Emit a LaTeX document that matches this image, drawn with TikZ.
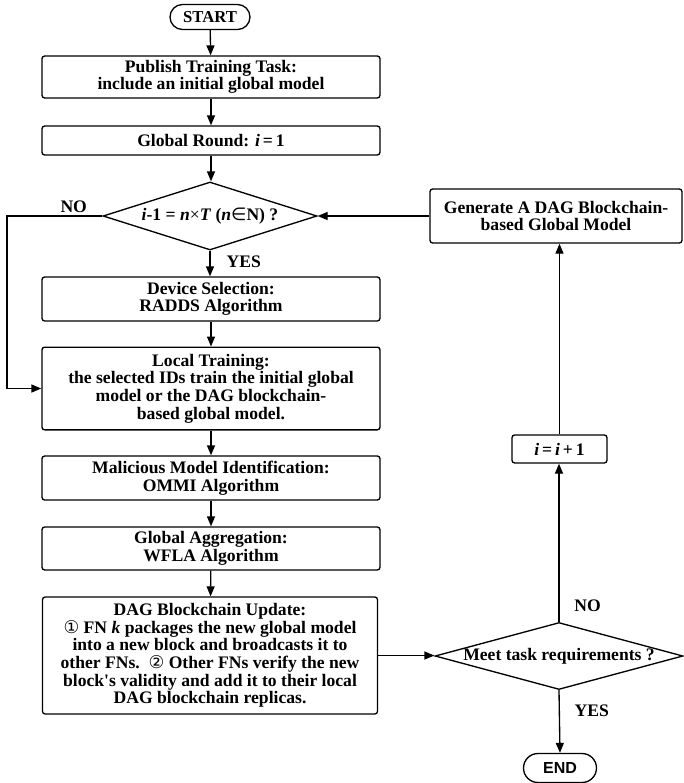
\documentclass[tikz,border=0pt]{standalone}
\usepackage{fontspec}
\setmainfont{Liberation Serif}
\newfontfamily\symfont{DejaVu Sans}
\newfontfamily\endfont{Liberation Sans}
\usetikzlibrary{shapes.geometric,shapes.misc,arrows.meta}

\tikzset{
  procbox/.style={draw, line width=1pt, rounded corners=2pt, align=center,
    font=\bfseries\fontsize{13.2}{13.2}\selectfont, inner sep=1pt,
    minimum width=253.5pt},
  decision/.style={draw, line width=1pt, diamond, inner sep=0pt,
    text height=7pt, text depth=0pt,
    font=\bfseries\fontsize{13.2}{13.2}\selectfont},
  terminal/.style={draw, line width=1pt, rounded rectangle, inner sep=0pt},
  flow/.style={line width=1pt, -{Triangle[length=7.5pt,width=6pt]}},
  lbl/.style={font=\bfseries\fontsize{13.2}{13.2}\selectfont, inner sep=2pt}
}

\begin{document}
\begin{tikzpicture}[x=0.75pt, y=-0.75pt]
    \useasboundingbox (0,0) rectangle (683,783);

    % main column
    \node [terminal, minimum width=60pt, minimum height=18.75pt,
      font=\bfseries\fontsize{12.5}{12.5}\selectfont] (start) at (210,17) {START};
    \node [procbox, minimum height=31.5pt] (publish) at (211,77)
      {Publish Training Task:\\include an initial global model};
    \node [procbox, minimum height=21.75pt] (round) at (211,140.5)
      {Global Round: \textit{i}\,=\,1};
    \node [decision, minimum width=160.5pt, minimum height=51pt, aspect=3.15] (check) at (210,216)
      {\textit{i}-1 = \textit{n}{\mdseries×}\textit{T} (\textit{n}{\symfont\mdseries ∈}N) ?};
    \node [procbox, minimum height=33pt] (select) at (211,299)
      {Device Selection:\\RADDS Algorithm};
    \node [procbox, minimum height=62pt] (local) at (211,388.5)
      {Local Training:\\the selected IDs train the initial global\\model or the DAG blockchain-\\based global model.};
    \node [procbox, minimum height=33pt] (ident) at (211,478)
      {Malicious Model Identification:\\OMMI Algorithm};
    \node [procbox, minimum height=32.25pt] (aggr) at (211,548.5)
      {Global Aggregation:\\WFLA Algorithm};
    \node [procbox, minimum width=251.25pt, minimum height=87.75pt] (update) at (210,655.5)
      {DAG Blockchain Update:\\{\symfont\mdseries ①} FN \textit{k} packages the new global model\\into a new block and broadcasts it to\\other FNs.\ \ {\symfont\mdseries ②} Other FNs verify the new\\block\textquotesingle s validity and add it to their local\\DAG blockchain replicas.};

    % right column
    \node [decision, minimum width=186pt, minimum height=50.25pt, aspect=3.7] (meet) at (559,656)
      {Meet task requirements ?};
    \node [procbox, minimum width=71.25pt, minimum height=21pt] (incr) at (559.5,449)
      {\textit{i}\,=\,\textit{i}\,+\,1};
    \node [procbox, minimum width=189pt, minimum height=40.5pt] (gen) at (556,216)
      {Generate A DAG Blockchain-\\based Global Model};
    \node [terminal, minimum width=54.75pt, minimum height=21.75pt,
      font=\endfont\bfseries\fontsize{12}{12}\selectfont] (end) at (560,768) {END};

    \coordinate (back) at (7,216);

    \draw [flow] (start) -- (publish);
    \draw [flow] (publish) -- (round);
    \draw [flow] (round.south) -- (round.south |- check.north);
    \draw [flow] (check.south) -- node [lbl, right, pos=0.45, xshift=10pt] {YES} (check.south |- select.north);
    \draw [flow] (check.west) -- node [lbl, above, pos=0.3] {NO} (back) |- (local.west);
    \draw [flow] (select) -- (local);
    \draw [flow] (local) -- (ident);
    \draw [flow] (ident) -- (aggr);
    \draw [flow] (aggr) -- (update);
    \draw [flow] (update.east) -- (update.east -| meet.west);
    \draw [flow] (meet.north) -- node [lbl, right, pos=0.1, xshift=9pt] {NO} (meet.north |- incr.south);
    \draw [flow] (incr.north) -- (incr.north |- gen.south);
    \draw [flow] (gen.west) -- (check.east);
    \draw [flow] (meet.south) -- node [lbl, right, pos=0.33, xshift=9pt] {YES} (end.north);
\end{tikzpicture}
\end{document}
